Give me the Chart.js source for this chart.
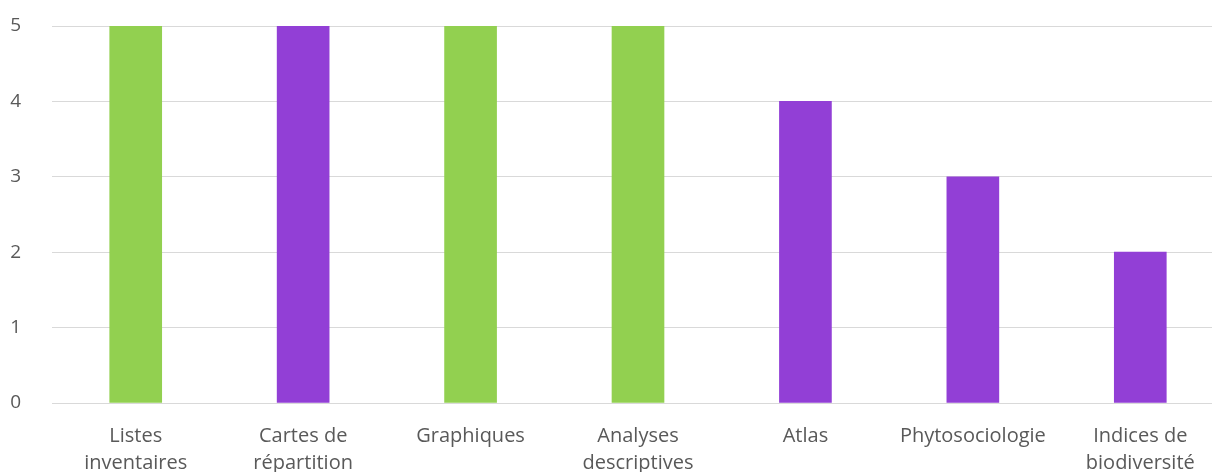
<!DOCTYPE html>
<html>
<head>
<meta charset="utf-8">
<script src="https://cdn.jsdelivr.net/npm/chart.js@4.4.0/dist/chart.umd.min.js"></script>
<style>
  html, body { margin: 0; padding: 0; background: #fff; overflow: hidden; }
  #wrap { width: 1224px; height: 472px; }
</style>
</head>
<body>
<div id="wrap"><canvas id="barChart"></canvas></div>
<script>
// chart data
const categories = [
  ['Listes', 'inventaires'],
  ['Cartes de', 'répartition'],
  'Graphiques',
  ['Analyses', 'descriptives'],
  'Atlas',
  'Phytosociologie',
  ['Indices de', 'biodiversité']
];
const counts = [5, 5, 5, 5, 4, 3, 2];
const yTicks = [0, 1, 2, 3, 4, 5];

const green = '#92d050';
const purple = '#923fd6';
const barColors = [green, purple, green, green, purple, purple, purple];

document.addEventListener('DOMContentLoaded', function () {
  const ctx = document.getElementById('barChart').getContext('2d');
  new Chart(ctx, {
    type: 'bar',
    data: {
      labels: categories,
      datasets: [{
        data: counts,
        backgroundColor: barColors,
        borderWidth: 0,
        barThickness: 52
      }]
    },
    options: {
      responsive: true,
      maintainAspectRatio: false,
      animation: false,
      layout: { padding: { top: 26, right: 0, left: 0, bottom: 0 } },
      plugins: { legend: { display: false }, tooltip: { enabled: false } },
      scales: {
        x: {
          grid: { display: false, drawTicks: false },
          border: { display: false },
          ticks: {
            color: '#595959',
            padding: 20,
            maxRotation: 0,
            autoSkip: false,
            font: { family: 'Open Sans', size: 20, lineHeight: 1.35 }
          },
          afterFit: function (scale) {
            scale.height = 69;
            scale.paddingLeft = 0;
            scale.paddingRight = 0;
          }
        },
        y: {
          min: 0,
          max: 5,
          afterBuildTicks: function (scale) {
            scale.ticks = yTicks.map(function (v) { return { value: v }; });
          },
          grid: { color: '#d9d9d9', lineWidth: 1, drawTicks: false },
          border: { display: false },
          ticks: {
            color: '#595959',
            padding: 31,
            font: { family: 'Open Sans', size: 19 }
          },
          afterFit: function (scale) {
            scale.width = 52;
            scale.paddingTop = 0;
            scale.paddingBottom = 0;
          }
        }
      }
    }
  });
});
</script>
</body>
</html>
